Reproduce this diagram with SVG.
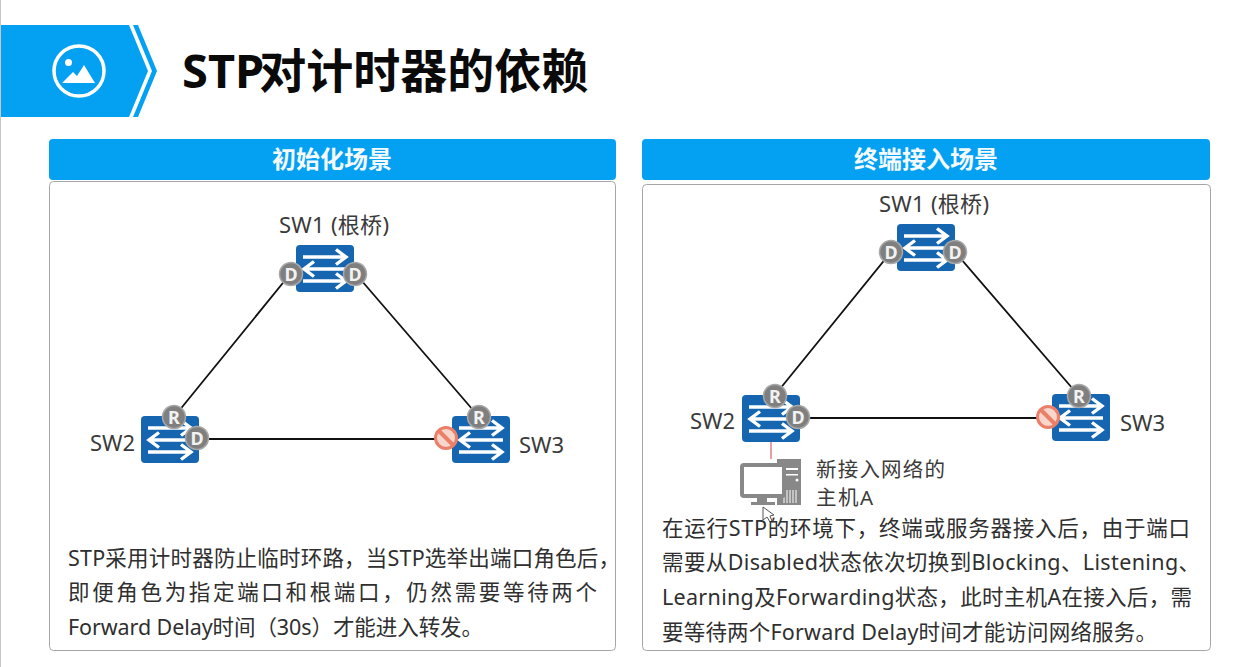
<svg xmlns="http://www.w3.org/2000/svg" width="1238" height="667" viewBox="0 0 1238 667">
<style>
text{font-family:"Noto Sans","Noto Sans CJK SC","Liberation Sans",sans-serif;fill:#333}
.hd{font-size:24px;font-weight:700;fill:#f4faff;text-anchor:middle}
.lb{font-size:22px;fill:#3a3a3a}
.bd{font-size:21.500px;fill:#2f2f2f}
.bg{font-size:18px;font-weight:700;fill:#f2f2f2;text-anchor:middle}
.panel{fill:#fff;stroke:#a6a6a6;stroke-width:1}
.hdr{fill:#04a1f2}
.ln{stroke:#111;stroke-width:1.800;fill:none}
.ar{stroke:#fff;stroke-width:3.400;fill:none;stroke-linejoin:miter}
.badge{fill:#7f7f7f;stroke:#a8a8a8;stroke-width:1.500}
.gy{fill:#888}
</style>
<defs>
<g id="sw">
<rect x="0" y="0" width="58" height="47" rx="4" fill="#1565b0"/>
<path class="ar" d="M7 12H49M40 4.500L50 12L40 19.500"/>
<path class="ar" d="M51 24H9M18 16.500L8 24L18 31.500"/>
<path class="ar" d="M7 36H49M40 28.500L50 36L40 43.500"/>
</g>
<g id="block">
<circle r="10.500" fill="#f9d6cb" stroke="#ec7f68" stroke-width="3"/>
<path d="M-7 -7L7 7" stroke="#ec7f68" stroke-width="4"/>
</g>
</defs>
<rect width="1238" height="667" fill="#fff"/>
<rect x="0" y="0" width="1" height="667" fill="#c8c8c8"/>
<g id="banner">
<path d="M1 25H129L148 71L129 117H1Z" fill="#04a1f2"/>
<path d="M133 25H138L157 71L138 117H133L152 71Z" fill="#04a1f2"/>
<circle cx="79" cy="71" r="25" fill="none" stroke="#fff" stroke-width="3.500"/>
<circle cx="68.500" cy="62.500" r="3.500" fill="#fff"/>
<path d="M62 83L73 72L77 76L84 65L95 83Z" fill="#fff"/>
<text x="182" y="88" font-size="47" font-weight="700" style="fill:#0a0a0a">STP<tspan dx="-5">对计时器的依赖</tspan></text>
</g>
<g id="panel-left">
<rect class="panel" x="49.500" y="181.500" width="566" height="469" rx="4"/>
<rect class="hdr" x="49" y="139" width="567" height="41" rx="4"/>
<text class="hd" x="332" y="168">初始化场景</text>
</g>
<g id="panel-right">
<rect class="panel" x="642.500" y="184.500" width="568" height="466" rx="4"/>
<rect class="hdr" x="642" y="139" width="568" height="41" rx="4"/>
<text class="hd" x="926" y="168">终端接入场景</text>
</g>
<g id="connectors">
<path class="ln" d="M291 273L174 417M355 273L479 417M197 439H446"/>
<path class="ln" d="M891 252L775 395M955 252L1079 396M798 418H1048"/>
<path d="M771 442V459" stroke="#e08080" stroke-width="1.500"/>
</g>
<g id="l-sw1">
<use href="#sw" x="296" y="245"/>
<circle class="badge" cx="291" cy="274" r="11.500"/><text class="bg" x="291" y="280.500">D</text>
<circle class="badge" cx="355" cy="274" r="11.500"/><text class="bg" x="355" y="280.500">D</text>
<text class="lb" x="279" y="233" textLength="110">SW1 (根桥)</text>
</g>
<g id="l-sw2">
<use href="#sw" x="141" y="416"/>
<circle class="badge" cx="174" cy="417" r="11.500"/><text class="bg" x="174" y="423.500">R</text>
<circle class="badge" cx="197" cy="438" r="11.500"/><text class="bg" x="197" y="444.500">D</text>
<text class="lb" x="90" y="451">SW2</text>
</g>
<g id="l-sw3">
<use href="#sw" x="452" y="416"/>
<circle class="badge" cx="479" cy="417" r="11.500"/><text class="bg" x="479" y="423.500">R</text>
<use href="#block" x="446" y="438"/>
<text class="lb" x="519" y="453">SW3</text>
</g>
<g id="r-sw1">
<use href="#sw" x="897" y="224"/>
<circle class="badge" cx="891" cy="252" r="11.500"/><text class="bg" x="891" y="258.500">D</text>
<circle class="badge" cx="955" cy="252" r="11.500"/><text class="bg" x="955" y="258.500">D</text>
<text class="lb" x="879" y="212" textLength="110">SW1 (根桥)</text>
</g>
<g id="r-sw2">
<use href="#sw" x="742" y="395"/>
<circle class="badge" cx="775" cy="396" r="11.500"/><text class="bg" x="775" y="402.500">R</text>
<circle class="badge" cx="798" cy="417" r="11.500"/><text class="bg" x="798" y="423.500">D</text>
<text class="lb" x="690" y="429">SW2</text>
</g>
<g id="r-sw3">
<use href="#sw" x="1052" y="394"/>
<circle class="badge" cx="1079" cy="396" r="11.500"/><text class="bg" x="1079" y="402.500">R</text>
<use href="#block" x="1048" y="417"/>
<text class="lb" x="1120" y="431">SW3</text>
</g>
<g id="host-a">
<rect class="gy" x="777" y="459" width="24" height="46"/>
<rect x="786" y="468" width="12" height="2" fill="#fff"/>
<rect x="786" y="474" width="12" height="1.500" fill="#fff"/>
<circle cx="797" cy="480" r="1.500" fill="#fff"/>
<path d="M784 490V503M787 490V503M790 490V503M793 490V503M796 490V503" stroke="#fff" stroke-width="1"/>
<rect x="742" y="465" width="42" height="31" rx="2" fill="#fff" stroke="#888" stroke-width="4"/>
<rect class="gy" x="757" y="497" width="10" height="5"/>
<rect class="gy" x="751" y="502" width="24" height="3"/>
<path d="M763 507V520L767 517L770 522L772 521L770 516L774 515Z" fill="#fff" stroke="#555" stroke-width="1"/>
<text class="lb" x="816" y="477" textLength="129" style="font-size:20.500px">新接入网络的</text>
<text class="lb" x="816" y="505" textLength="57" style="font-size:20.500px">主机A</text>
</g>
<g id="text-left">
<text class="bd" x="68" y="566" textLength="552">STP采用计时器防止临时环路&#xFF0C;当STP选举出端口角色后&#xFF0C;</text>
<text class="bd" x="68" y="600" textLength="529">即便角色为指定端口和根端口&#xFF0C;仍然需要等待两个</text>
<text class="bd" x="68" y="635" textLength="415">Forward Delay时间&#xFF08;30s&#xFF09;才能进入转发。</text>
</g>
<g id="text-right">
<text class="bd" x="662" y="536" textLength="528">在运行STP的环境下&#xFF0C;终端或服务器接入后&#xFF0C;由于端口</text>
<text class="bd" x="662" y="570" textLength="538">需要从Disabled状态依次切换到Blocking、Listening、</text>
<text class="bd" x="662" y="605" textLength="530">Learning及Forwarding状态&#xFF0C;此时主机A在接入后&#xFF0C;需</text>
<text class="bd" x="662" y="640" textLength="495">要等待两个Forward Delay时间才能访问网络服务。</text>
</g>
</svg>
